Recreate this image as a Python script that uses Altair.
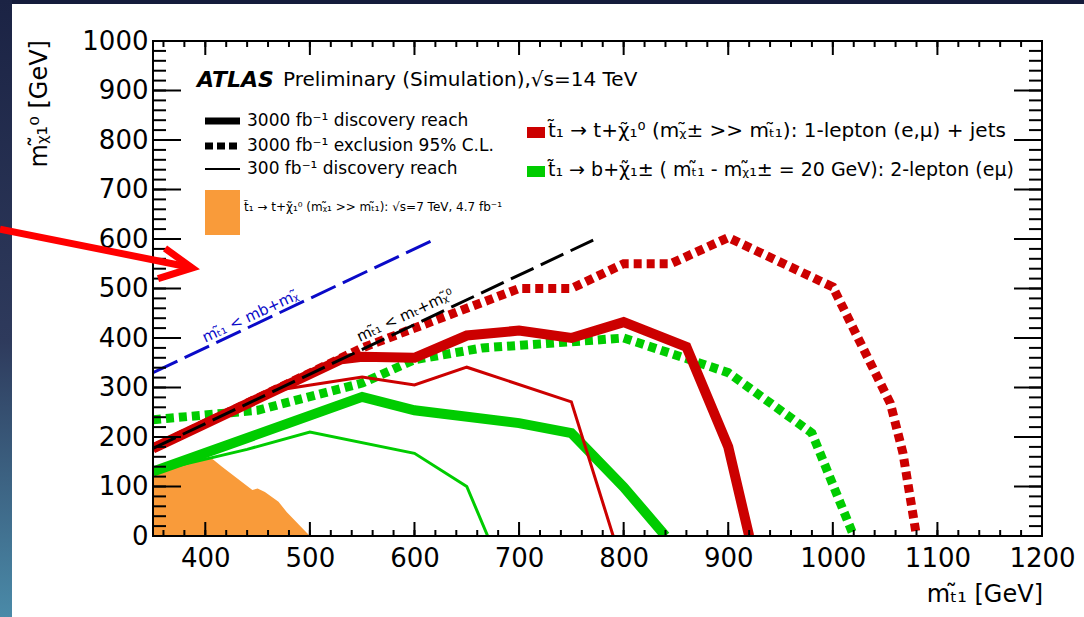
import altair as alt
import pandas as pd

# ---------------- data (GeV) ----------------
red_disc3000_x = [350, 530, 550, 600, 650, 700, 750, 800, 860, 900, 920]
red_disc3000_y = [177, 357, 362, 360, 405, 415, 400, 432, 382, 180, 0]
red_disc300_x = [350, 470, 550, 600, 650, 750, 790]
red_disc300_y = [177, 295, 321, 305, 341, 271, 0]
red_excl_x = [350, 550, 700, 750, 800, 845, 900, 1000, 1055, 1067, 1080]
red_excl_y = [177, 380, 500, 500, 550, 550, 603, 503, 268, 168, 0]
green_disc3000_x = [350, 550, 600, 700, 750, 800, 840]
green_disc3000_y = [130, 281, 254, 228, 208, 99, 0]
green_disc300_x = [350, 440, 500, 600, 650, 670]
green_disc300_y = [130, 175, 210, 167, 100, 0]
green_excl_x = [350, 450, 550, 600, 665, 775, 800, 855, 900, 980, 1020]
green_excl_y = [235, 254, 309, 356, 380, 396, 400, 362, 330, 208, 0]
atlas7_x = [350, 390, 400, 406, 416, 445, 450, 457, 470, 478, 500]
atlas7_y = [130, 152, 160, 157, 140, 93, 96, 89, 69, 48, 0]
kin_b_x = [350, 620]
kin_b_y = [330, 600]
kin_t_x = [350, 775]
kin_t_y = [177, 602]
# annotation arrow (data units, drawn unclipped)
arrow_shaft_x = [203.7, 384]
arrow_shaft_y = [620, 543.5]
arrow_head_x = [361.5, 387.5, 354.8]
arrow_head_y = [581, 541.5, 520]
# slanted kinematic labels
kin_label_x = [443, 591]
kin_label_y = [444, 446]
kin_label_text = ["m\u209c\u0303\u2081 < mb+m\u1d6a\u0303", "m\u209c\u0303\u2081 < m\u209c+m\u1d6a\u0303\u2070"]

# tick values
x_labels = [400, 500, 600, 700, 800, 900, 1000, 1100, 1200]
y_labels = [0, 100, 200, 300, 400, 500, 600, 700, 800, 900, 1000]
x_major = [400, 500, 600, 700, 800, 900, 1000, 1100]
x_minor = list(range(360, 1200, 20))
y_major = [100, 200, 300, 400, 500, 600, 700, 800, 900]
y_minor = list(range(20, 1000, 20))

# texts
title_bold = "ATLAS"
title_rest = "Preliminary (Simulation),\u221as=14 TeV"
leg_black = ["3000 fb\u207b\u00b9 discovery reach",
             "3000 fb\u207b\u00b9 exclusion 95% C.L.",
             "300 fb\u207b\u00b9 discovery reach"]
leg_orange = "t\u0303\u2081 \u2192 t+\u03c7\u0303\u2081\u2070 (m\u1d6a\u0303\u2081 >> m\u209c\u0303\u2081): \u221as=7 TeV,  4.7 fb\u207b\u00b9"
leg_red = "t\u0303\u2081 \u2192 t+\u03c7\u0303\u2081\u2070 (m\u1d6a\u0303\u00b1 >> m\u209c\u0303\u2081): 1-lepton (e,\u03bc) + jets"
leg_green = "t\u0303\u2081 \u2192 b+\u03c7\u0303\u2081\u00b1 ( m\u209c\u0303\u2081 - m\u1d6a\u0303\u2081\u00b1 = 20 GeV): 2-lepton (e\u03bc)"
x_title = "m\u209c\u0303\u2081 [GeV]"
y_title = "m\u1d6a\u0303\u2081\u2070 [GeV]"

# ---------------- layout ----------------
X0, Y0 = 153, 41
W, H = 889, 495
FONT = "DejaVu Sans"
RED = "#cc0000"
GREEN = "#00cc00"
ORANGE = "#f99b3a"
BLUE = "#0a0ac8"

xscale = alt.Scale(domain=[350, 1200], nice=False, zero=False)
yscale = alt.Scale(domain=[0, 1000], nice=False, zero=False)
one = pd.DataFrame({"a": [0]})


def df_xy(xs, ys):
    return pd.DataFrame({"x": xs, "y": ys, "i": list(range(len(xs)))})


def enc_xy(xaxis=None, yaxis=None):
    return dict(x=alt.X("x:Q", scale=xscale, axis=xaxis),
                y=alt.Y("y:Q", scale=yscale, axis=yaxis))


def curve(xs, ys, color, width, dash=None, clip=True):
    mk = dict(color=color, strokeWidth=width, clip=clip, strokeCap="butt")
    if dash:
        mk["strokeDash"] = dash
    return alt.Chart(df_xy(xs, ys)).mark_line(**mk).encode(order="i:Q", **enc_xy())


def xticks(values, length, top=False):
    y1, y2 = (0, length) if top else (H, H - length)
    return alt.Chart(pd.DataFrame({"v": values})).mark_rule(color="black", strokeWidth=2).encode(
        x=alt.X("v:Q", scale=xscale, axis=None), y=alt.value(y1), y2=alt.value(y2))


def yticks(values, length, right=False):
    x1, x2 = (W, W - length) if right else (0, length)
    return alt.Chart(pd.DataFrame({"v": values})).mark_rule(color="black", strokeWidth=2).encode(
        y=alt.Y("v:Q", scale=yscale, axis=None), x=alt.value(x1), x2=alt.value(x2))


def text(t, x, y, size, color="black", align="left", angle=0, **kw):
    return alt.Chart(one).mark_text(align=align, baseline="middle", fontSize=size, font=FONT,
                                    color=color, angle=angle, **kw).encode(
        x=alt.value(x - X0), y=alt.value(y - Y0), text=alt.value(t))


def prect(x1, x2, y1, y2, **kw):
    return alt.Chart(one).mark_rect(**kw).encode(
        x=alt.value(x1 - X0), x2=alt.value(x2 - X0), y=alt.value(y1 - Y0), y2=alt.value(y2 - Y0))


def prule(x1, x2, y, **kw):
    return alt.Chart(one).mark_rule(**kw).encode(
        x=alt.value(x1 - X0), x2=alt.value(x2 - X0), y=alt.value(y - Y0))


layers = []
# slide frame strips
layers.append(prect(0, 1084, 0, 4, color="#151c3b"))
layers.append(prect(0, 12, 0, 617, fill={"gradient": "linear", "x1": 0, "x2": 0, "y1": 0, "y2": 1,
                                         "stops": [{"offset": 0, "color": "#1b2344"},
                                                   {"offset": 0.55, "color": "#2e3a5c"},
                                                   {"offset": 1, "color": "#4a8aa8"}]}))
# 7 TeV observed (carries the labelled axes)
xlab = alt.Axis(orient="bottom", values=x_labels, ticks=False, domain=False, grid=False, title=None,
                labelFont=FONT, labelFontSize=26, labelColor="black", labelPadding=9, format="d",
                labelFlush=False, labelOverlap=False, zindex=0)
ylab = alt.Axis(orient="left", values=y_labels, ticks=False, domain=False, grid=False, title=None,
                labelFont=FONT, labelFontSize=26, labelColor="black", labelPadding=5, format="d",
                labelFlush=False, labelOverlap=False, zindex=0)
layers.append(alt.Chart(df_xy(atlas7_x, atlas7_y)).mark_area(color=ORANGE, clip=True).encode(
    **enc_xy(xlab, ylab)))
# curves
layers.append(curve(green_disc300_x, green_disc300_y, GREEN, 3))
layers.append(curve(green_disc3000_x, green_disc3000_y, GREEN, 10))
layers.append(curve(green_excl_x, green_excl_y, GREEN, 9, dash=[8, 5]))
layers.append(curve(red_disc300_x, red_disc300_y, RED, 3))
layers.append(curve(red_disc3000_x, red_disc3000_y, RED, 10))
layers.append(curve(red_excl_x, red_excl_y, RED, 9, dash=[8, 5]))
layers.append(curve(kin_t_x, kin_t_y, "black", 3, dash=[25, 8]))
layers.append(curve(kin_b_x, kin_b_y, BLUE, 3, dash=[27, 8]))
# kinematic labels
for lx, ly, lt, col in zip(kin_label_x, kin_label_y, kin_label_text, [BLUE, "black"]):
    layers.append(alt.Chart(pd.DataFrame({"x": [lx], "y": [ly], "t": [lt]})).mark_text(
        fontSize=15, font=FONT, color=col, angle=335, align="center", baseline="middle").encode(
        text="t:N", **enc_xy()))
# ticks (inward, on all four sides)
layers.append(xticks(x_major, 14))
layers.append(xticks(x_minor, 6))
layers.append(xticks(x_major, 14, top=True))
layers.append(xticks(x_minor, 6, top=True))
layers.append(yticks(y_major, 28))
layers.append(yticks(y_minor, 13))
layers.append(yticks(y_major, 28, right=True))
layers.append(yticks(y_minor, 13, right=True))
# frame
layers.append(alt.Chart(one).mark_rect(filled=False, stroke="black", strokeWidth=2).encode(
    x=alt.X(datum=350, scale=xscale, axis=None), x2=alt.X2(datum=1200),
    y=alt.Y(datum=0, scale=yscale, axis=None), y2=alt.Y2(datum=1000)))
# titles
layers.append(text(x_title, 1043, 595, 24, align="right"))
layers.append(text(y_title, 40, 40, 24, align="right", angle=270))
layers.append(text(title_bold, 197, 80, 22, fontStyle="italic", fontWeight="bold"))
layers.append(text(title_rest, 283, 80, 20))
# black legend
layers.append(prule(205, 240, 121, color="black", strokeWidth=7))
layers.append(prule(205, 240, 146, color="black", strokeWidth=7, strokeDash=[8, 4]))
layers.append(prule(205, 240, 169, color="black", strokeWidth=2))
for t, yy in zip(leg_black, [121, 146, 169]):
    layers.append(text(t, 247, yy, 17))
layers.append(prect(205, 240, 190, 235, color=ORANGE))
layers.append(text(leg_orange, 244, 207, 12))
# colour legend
layers.append(prect(527, 545, 127, 138, color=RED))
layers.append(text(leg_red, 548, 131, 20))
layers.append(prect(527, 545, 166, 177, color=GREEN))
layers.append(text(leg_green, 548, 170, 19))
# arrow
layers.append(curve(arrow_shaft_x, arrow_shaft_y, "#ff0000", 7, clip=False))
layers.append(alt.Chart(df_xy(arrow_head_x, arrow_head_y)).mark_line(
    color="#ff0000", strokeWidth=7, clip=False, strokeJoin="miter").encode(order="i:Q", **enc_xy()))

chart = alt.layer(*layers).resolve_axis(x="independent", y="independent").properties(
    width=W, height=H,
    autosize=alt.AutoSizeParams(type="none"),
    padding={"left": X0, "top": Y0, "right": 1084 - X0 - W, "bottom": 617 - Y0 - H},
    background="white",
).configure_view(stroke=None)

chart.save("out.html", embed_options={"renderer": "svg", "actions": False})
